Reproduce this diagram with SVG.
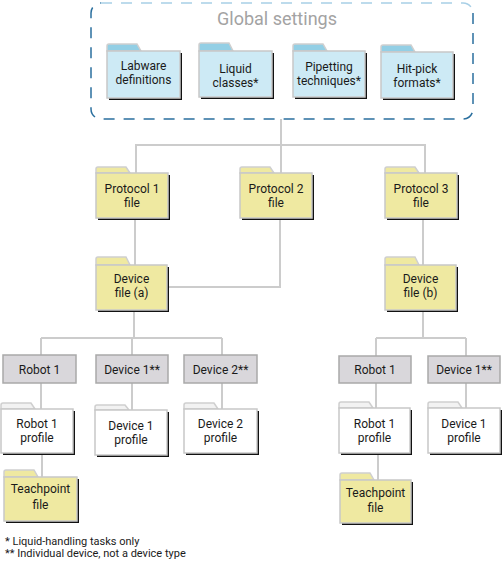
<svg xmlns="http://www.w3.org/2000/svg" width="502" height="562" viewBox="0 0 502 562">
<style>
text{font-family:Roboto,"Liberation Sans",sans-serif;font-size:12px;fill:#1a1a1a;text-anchor:middle}
.c{fill:none;stroke:#cccccc;stroke-width:2}
.sh{fill:#111}
.bd{stroke:#c8c8c8;stroke-width:1.5}
.blue{fill:#cdeaf5}
.yel{fill:#efe9a1}
.wht{fill:#ffffff}
.tb{fill:#93cfe5;stroke:#cfcfcf;stroke-width:1.5}
.ty{fill:#efe9a1;stroke:#cfcfcf;stroke-width:1.5}
.tw{fill:#f2f2f2;stroke:#cfcfcf;stroke-width:1.5}
.box{fill:#d9d7db;stroke:#a9a9a9;stroke-width:1.5}
.foot{text-anchor:start;font-size:11px}
.dash{fill:none;stroke-width:1.5;stroke-dasharray:11 9}
</style>
<path class="dash" stroke="#2a6f9e" d="M473 13V109A10 10 0 0 1 463 119H101A10 10 0 0 1 91 109V13A10 10 0 0 1 101 3"/>
<path class="dash" stroke="#a8cfe6" d="M101 3H463A10 10 0 0 1 473 13"/>
<text x="277" y="25" style="font-size:18px;fill:#a3a3a3">Global settings</text>
<g id="connectors">
<path class="c" d="M281 119V173M136 173V145H425V173M135 219V265M280 219V287H167M423 219V265M134 310V338M41 338H222M41 338V356M132 338V356M222 338V356M41 383V409M132 383V410M222 383V409M42 453V477M423 310V338M376 338H466M376 338V356M466 338V356M376 383V408M466 383V408M378 453V480"/>
</g>
<g id="labware">
<path class="tb" d="M107 51V46Q107 44 109 44H137L141 51Z"/>
<rect class="sh" x="109" y="53" width="73" height="47"/>
<rect class="blue bd" x="107" y="51" width="73" height="47"/>
<text x="143.5" y="70">Labware</text><text x="143.5" y="84">definitions</text>
</g>
<g id="liquid">
<path class="tb" d="M199 51V45Q199 43 201 43H229L233 51Z"/>
<rect class="sh" x="201" y="53" width="73" height="46"/>
<rect class="blue bd" x="199" y="51" width="73" height="46"/>
<text x="235.5" y="73">Liquid</text><text x="235.5" y="87">classes*</text>
</g>
<g id="pipetting">
<path class="tb" d="M293 51V46Q293 44 295 44H323L327 51Z"/>
<rect class="sh" x="295" y="53" width="72" height="46"/>
<rect class="blue bd" x="293" y="51" width="72" height="46"/>
<text x="329" y="71">Pipetting</text><text x="329" y="85">techniques*</text>
</g>
<g id="hitpick">
<path class="tb" d="M381 52V47Q381 45 383 45H411L415 52Z"/>
<rect class="sh" x="383" y="54" width="72" height="46"/>
<rect class="blue bd" x="381" y="52" width="72" height="46"/>
<text x="417" y="73">Hit-pick</text><text x="417" y="87">formats*</text>
</g>
<g id="protocol1">
<path class="ty" d="M96 173V169Q96 167 98 167H126L130 173Z"/>
<rect class="sh" x="98" y="175" width="72" height="45"/>
<rect class="yel bd" x="96" y="173" width="72" height="45"/>
<text x="132" y="193">Protocol 1</text><text x="132" y="207">file</text>
</g>
<g id="protocol2">
<path class="ty" d="M240 173V169Q240 167 242 167H270L274 173Z"/>
<rect class="sh" x="242" y="175" width="72" height="45"/>
<rect class="yel bd" x="240" y="173" width="72" height="45"/>
<text x="276" y="193">Protocol 2</text><text x="276" y="207">file</text>
</g>
<g id="protocol3">
<path class="ty" d="M385 173V169Q385 167 387 167H415L419 173Z"/>
<rect class="sh" x="387" y="175" width="72" height="45"/>
<rect class="yel bd" x="385" y="173" width="72" height="45"/>
<text x="421" y="193">Protocol 3</text><text x="421" y="207">file</text>
</g>
<g id="devicefile-a">
<path class="ty" d="M96 265V259Q96 257 98 257H126L130 265Z"/>
<rect class="sh" x="98" y="267" width="71" height="45"/>
<rect class="yel bd" x="96" y="265" width="71" height="45"/>
<text x="131.5" y="283">Device</text><text x="131.5" y="297">file (a)</text>
</g>
<g id="devicefile-b">
<path class="ty" d="M385 265V259Q385 257 387 257H415L419 265Z"/>
<rect class="sh" x="387" y="267" width="71" height="45"/>
<rect class="yel bd" x="385" y="265" width="71" height="45"/>
<text x="420.5" y="283">Device</text><text x="420.5" y="297">file (b)</text>
</g>
<g id="robot1-a"><rect class="box" x="3" y="355" width="73" height="28"/><text x="39.5" y="374">Robot 1</text></g>
<g id="device1-a"><rect class="box" x="96" y="355" width="72" height="28"/><text x="132" y="374">Device 1**</text></g>
<g id="device2-a"><rect class="box" x="184" y="355" width="73" height="28"/><text x="220.5" y="374">Device 2**</text></g>
<g id="robot1-b"><rect class="box" x="339" y="356" width="72" height="27"/><text x="375" y="374">Robot 1</text></g>
<g id="device1-b"><rect class="box" x="428" y="356" width="72" height="27"/><text x="464" y="374">Device 1**</text></g>
<g id="robot1profile-a">
<path class="tw" d="M1 409V405Q1 403 3 403H31L35 409Z"/>
<rect class="sh" x="3" y="411" width="72" height="44"/>
<rect class="wht bd" x="1" y="409" width="72" height="44"/>
<text x="37" y="428">Robot 1</text><text x="37" y="442">profile</text>
</g>
<g id="device1profile-a">
<path class="tw" d="M95 410V407Q95 405 97 405H125L129 410Z"/>
<rect class="sh" x="97" y="412" width="72" height="45"/>
<rect class="wht bd" x="95" y="410" width="72" height="45"/>
<text x="131" y="430">Device 1</text><text x="131" y="444">profile</text>
</g>
<g id="device2profile-a">
<path class="tw" d="M184 409V405Q184 403 186 403H214L218 409Z"/>
<rect class="sh" x="186" y="411" width="73" height="44"/>
<rect class="wht bd" x="184" y="409" width="73" height="44"/>
<text x="220.5" y="428">Device 2</text><text x="220.5" y="442">profile</text>
</g>
<g id="teachpoint-a">
<path class="ty" d="M4 477V472Q4 470 6 470H34L38 477Z"/>
<rect class="sh" x="6" y="479" width="73" height="44"/>
<rect class="yel bd" x="4" y="477" width="73" height="44"/>
<text x="40.5" y="493">Teachpoint</text><text x="40.5" y="509">file</text>
</g>
<g id="robot1profile-b">
<path class="tw" d="M339 408V404Q339 402 341 402H369L373 408Z"/>
<rect class="sh" x="341" y="410" width="71" height="45"/>
<rect class="wht bd" x="339" y="408" width="71" height="45"/>
<text x="374.5" y="428">Robot 1</text><text x="374.5" y="442">profile</text>
</g>
<g id="device1profile-b">
<path class="tw" d="M428 408V404Q428 402 430 402H458L462 408Z"/>
<rect class="sh" x="430" y="410" width="72" height="45"/>
<rect class="wht bd" x="428" y="408" width="72" height="45"/>
<text x="464" y="428">Device 1</text><text x="464" y="442">profile</text>
</g>
<g id="teachpoint-b">
<path class="ty" d="M340 480V475Q340 473 342 473H370L374 480Z"/>
<rect class="sh" x="342" y="482" width="71" height="43"/>
<rect class="yel bd" x="340" y="480" width="71" height="43"/>
<text x="375.5" y="497">Teachpoint</text><text x="375.5" y="512">file</text>
</g>
<text class="foot" x="5" y="545">* Liquid-handling tasks only</text>
<text class="foot" x="5" y="557">** Individual device, not a device type</text>
</svg>
